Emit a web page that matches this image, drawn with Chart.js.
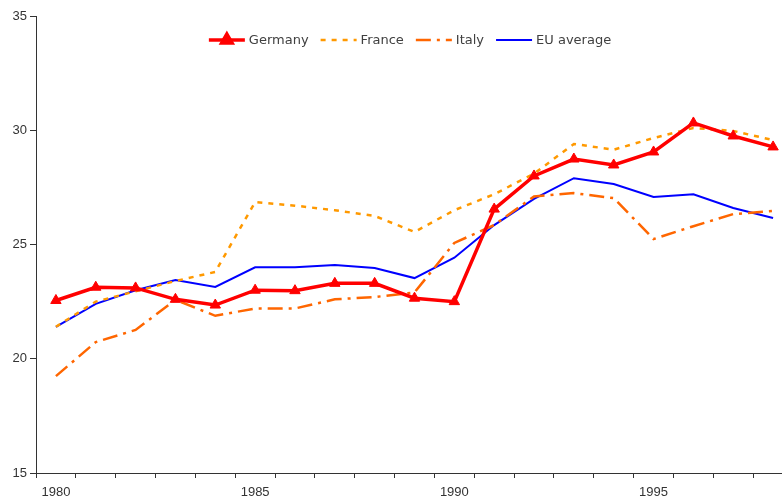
<!DOCTYPE html>
<html>
<head>
<meta charset="utf-8">
<script src="https://cdn.jsdelivr.net/npm/chart.js@4/dist/chart.umd.min.js"></script>
<style>
  html, body { margin: 0; padding: 0; background: #fff; overflow: hidden; width: 782px; height: 502px; }
  canvas { display: block; }
</style>
</head>
<body>
<canvas id="chart" width="800" height="502"></canvas>
<script>
const years = ['1980', '1981', '1982', '1983', '1984', '1985', '1986', '1987', '1988', '1989',
               '1990', '1991', '1992', '1993', '1994', '1995', '1996', '1997', '1998'];
const germany = [22.55, 23.13, 23.1, 22.6, 22.35, 23.0, 22.98, 23.3, 23.3, 22.65,
                 22.5, 26.55, 28.0, 28.74, 28.48, 29.05, 30.32, 29.75, 29.27];
const france = [21.4, 22.5, 22.95, 23.4, 23.8, 26.86, 26.7, 26.5, 26.25, 25.55,
                26.5, 27.2, 28.1, 29.4, 29.15, 29.66, 30.1, 29.97, 29.57];
const italy = [19.24, 20.73, 21.26, 22.58, 21.88, 22.2, 22.2, 22.6, 22.7, 22.9,
               25.07, 25.85, 27.1, 27.25, 27.03, 25.24, 25.8, 26.33, 26.47];
const euAverage = [21.39, 22.4, 23.0, 23.45, 23.14, 24.0, 24.0, 24.1, 23.97, 23.53,
                   24.42, 25.85, 27.0, 27.9, 27.65, 27.08, 27.2, 26.6, 26.16];
const yTicks = [15, 20, 25, 30, 35];

const axisColor = '#333';
const tickFont = { family: "'Liberation Sans', sans-serif", size: 13 };

// legend sits inside the plot, so draw it by hand
const insideLegend = {
  id: 'insideLegend',
  afterDraw(chart) {
    const ctx = chart.ctx;
    const sampleW = 36, gap = 4, itemGap = 12, y = 40;
    ctx.save();
    ctx.font = '13px "DejaVu Sans", sans-serif';
    const items = chart.data.datasets.map(ds => ({ ds, w: sampleW + gap + ctx.measureText(ds.label).width }));
    const total = items.reduce((s, it) => s + it.w, 0) + itemGap * (items.length - 1);
    let x = 410 - total / 2;
    items.forEach(({ ds, w }) => {
      ctx.strokeStyle = ds.borderColor;
      ctx.lineWidth = ds.borderWidth;
      ctx.setLineDash(ds.borderDash || []);
      ctx.beginPath();
      ctx.moveTo(x, y);
      ctx.lineTo(x + sampleW, y);
      ctx.stroke();
      ctx.setLineDash([]);
      if (ds.pointRadius) {
        ctx.fillStyle = ds.pointBackgroundColor;
        ctx.strokeStyle = ds.pointBorderColor;
        Chart.helpers.drawPoint(ctx, { pointStyle: ds.pointStyle, radius: ds.pointRadius, rotation: 0, borderWidth: 1 }, x + sampleW / 2, y);
      }
      ctx.fillStyle = '#404040';
      ctx.textBaseline = 'middle';
      ctx.fillText(ds.label, x + sampleW + gap, y + 1);
      x += w + itemGap;
    });
    ctx.restore();
  }
};

new Chart(document.getElementById('chart'), {
  type: 'line',
  data: {
    labels: years,
    datasets: [
      {
        label: 'Germany',
        data: germany,
        borderColor: '#ff0000',
        borderWidth: 3.5,
        pointStyle: 'triangle',
        pointRadius: 6,
        pointBorderWidth: 1,
        pointBackgroundColor: '#ff0000',
        pointBorderColor: '#ff0000',
        tension: 0
      },
      {
        label: 'France',
        data: france,
        borderColor: '#ff9900',
        borderWidth: 2.5,
        borderDash: [5, 6],
        pointRadius: 0,
        tension: 0
      },
      {
        label: 'Italy',
        data: italy,
        borderColor: '#ff6600',
        borderWidth: 2.5,
        borderDash: [15, 6, 3, 6],
        pointRadius: 0,
        tension: 0
      },
      {
        label: 'EU average',
        data: euAverage,
        borderColor: '#0000ff',
        borderWidth: 2,
        pointRadius: 0,
        tension: 0
      }
    ]
  },
  options: {
    responsive: false,
    animation: false,
    layout: { padding: { top: 16, right: 6, left: 0, bottom: 0 } },
    plugins: {
      legend: { display: false },
      tooltip: { enabled: false }
    },
    scales: {
      x: {
        type: 'category',
        offset: true,
        grid: { offset: true, drawOnChartArea: false, tickLength: 5, color: axisColor },
        border: { color: axisColor, width: 1 },
        ticks: {
          autoSkip: false,
          maxRotation: 0,
          color: axisColor,
          font: tickFont,
          padding: 7,
          callback: function (value) {
            const label = this.getLabelForValue(value);
            return Number(label) % 5 === 0 ? label : '';
          }
        },
        afterFit: scale => { scale.height = 29; }
      },
      y: {
        min: yTicks[0],
        max: yTicks[yTicks.length - 1],
        afterBuildTicks: scale => { scale.ticks = yTicks.map(v => ({ value: v })); },
        grid: { drawOnChartArea: false, tickLength: 6, color: axisColor },
        border: { color: axisColor, width: 1 },
        ticks: { color: axisColor, font: tickFont, padding: 3 },
        afterFit: scale => { scale.width = 36; }
      }
    }
  },
  plugins: [insideLegend]
});
</script>
</body>
</html>
